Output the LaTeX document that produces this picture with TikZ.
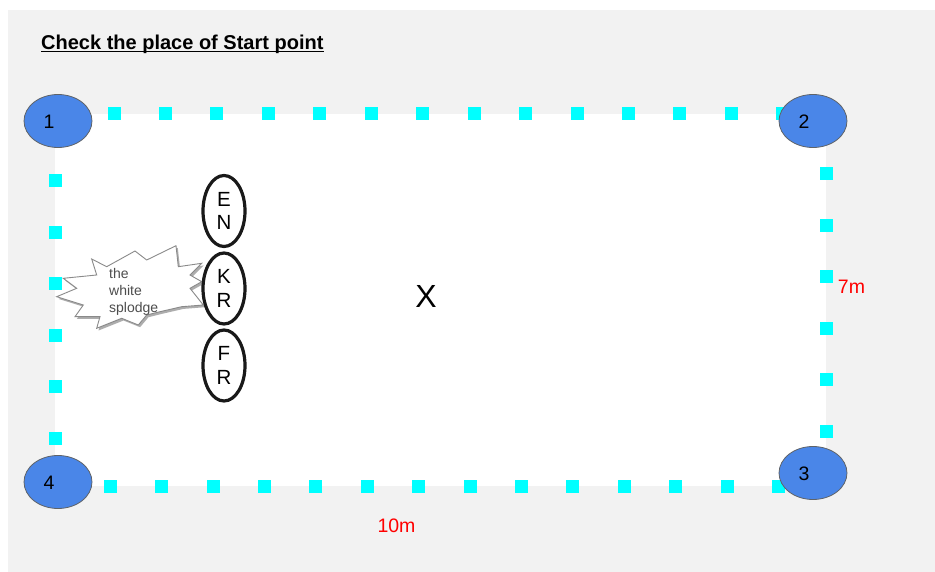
\documentclass[tikz,border=0pt]{standalone}
\usepackage{fontspec}
\setmainfont{Liberation Sans}
\usetikzlibrary{shapes.geometric,shadows}
\definecolor{panelgray}{HTML}{F2F2F2}
\definecolor{sqcyan}{HTML}{00FFFF}
\definecolor{cornerblue}{HTML}{4A86E8}
\definecolor{cornerline}{HTML}{5F6368}
\definecolor{splodgeline}{HTML}{8A8A8A}
\definecolor{splodgetext}{HTML}{4D4D4D}
\begin{document}
\begin{tikzpicture}[x=1pt,y=-1pt,
  sq/.style={rectangle, fill=sqcyan, draw=none, minimum size=13pt, inner sep=0pt},
  corner/.style={ellipse, draw=cornerline, fill=cornerblue, line width=0.8pt,
                 minimum width=68pt, minimum height=53pt, inner sep=0pt},
  cornerlabel/.style={inner sep=0pt, font=\fontsize{19.5}{19.5}\selectfont, text=black},
  lett/.style={ellipse, draw=black!90, line width=3.2pt, minimum width=42pt,
               minimum height=71pt, inner sep=0pt, align=center,
               font=\fontsize{20.5}{23.5}\selectfont},
  measure/.style={inner sep=0pt, text=red, font=\fontsize{19.5}{19.5}\selectfont}
]
\useasboundingbox (0,0) rectangle (935,572);
\fill[white] (0,0) rectangle (935,572);
\fill[panelgray] (8,10) rectangle (935,572);
\fill[white] (55,114) rectangle (826,486);

% title
\node[anchor=base west, inner sep=0pt, font=\bfseries\fontsize{20}{20}\selectfont] (title) at (41,50) {Check the place of Start point};
\draw[line width=1.4pt] ([yshift=-1.8pt]title.base west) -- ([yshift=-1.8pt]title.base east);

% cyan squares
\foreach \i in {0,...,13} \node[sq] (t\i) at ({114+51.45*\i},113.5) {};
\foreach \i in {0,...,13} \node[sq] (b\i) at ({110.3+51.4*\i},486.5) {};
\foreach \i in {0,...,5} \node[sq] (l\i) at (55.5,{181+51.4*\i}) {};
\foreach \i in {0,...,5} \node[sq] (r\i) at (826,{174+51.4*\i}) {};

% corner ellipses
\node[corner] (c1) at (58,121) {};
\node[corner] (c2) at (813,121) {};
\node[corner] (c3) at (813,473) {};
\node[corner] (c4) at (58,482) {};
\node[cornerlabel] (n1) at ([xshift=-9pt,yshift=-1pt]c1.center) {1};
\node[cornerlabel] (n2) at ([xshift=-9pt,yshift=-1pt]c2.center) {2};
\node[cornerlabel] (n3) at ([xshift=-9pt,yshift=-1pt]c3.center) {3};
\node[cornerlabel] (n4) at ([xshift=-9pt,yshift=-1pt]c4.center) {4};

% splodge
\draw[draw=splodgeline, fill=white, line width=0.9pt, line join=miter,
      drop shadow={shadow xshift=1.8pt, shadow yshift=-2.2pt, opacity=0.4, fill=black!80}]
  (91.7,259) -- (106.7,266.7) -- (135,251) -- (146.7,260) -- (176,245.7)
  -- (178.3,266.7) -- (201.7,263.3) -- (190,275) -- (201.7,281.7) -- (190,288.3)
  -- (203.3,305) -- (181.7,306.7) -- (160,311.7) -- (146.7,315) -- (138.3,325)
  -- (121.7,318.3) -- (96.7,328.3) -- (100,316.7) -- (75,316.7) -- (83.3,305)
  -- (56.7,296.7) -- (76.7,288.3) -- (63.3,278.3) -- (96.7,275) -- cycle;
\node[anchor=north west, inner sep=0pt, align=left, text=splodgetext,
      font=\fontsize{14}{17}\selectfont] (splodge) at (109,267.8) {the\\white\\splodge};

% lettered ellipses
\node[lett] (en) at (224,211) {E\\N};
\node[lett] (kr) at (224,288.5) {K\\R};
\node[lett] (fr) at (224,365.5) {F\\R};

% X mark
\node[inner sep=0pt, font=\fontsize{32}{32}\selectfont] (xmark) at (426,296.5) {X};

% measurements
\node[measure] (len7) at (851.5,287) {7m};
\node[measure] (len10) at (396.5,525.5) {10m};
\end{tikzpicture}
\end{document}
